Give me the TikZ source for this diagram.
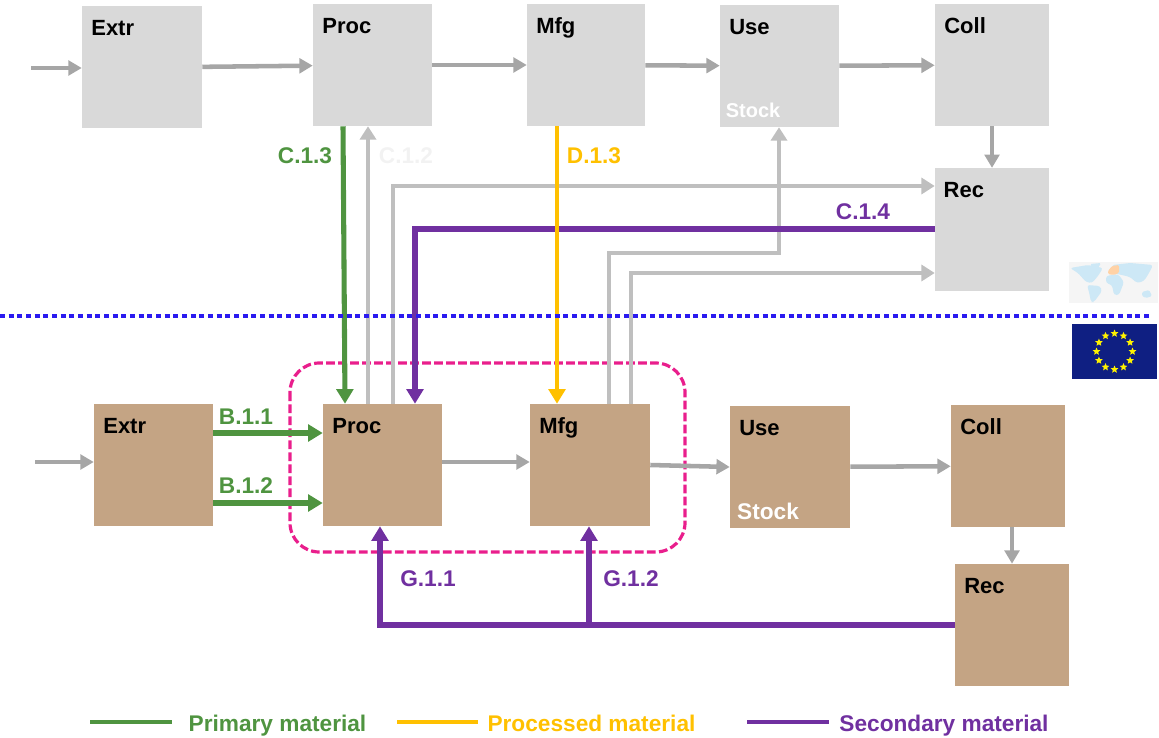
\documentclass[tikz,border=0pt]{standalone}
\usepackage{fontspec}
\setmainfont{Liberation Sans}
\usetikzlibrary{arrows.meta,shapes.geometric}
\definecolor{boxgray}{HTML}{D9D9D9}
\definecolor{boxbrown}{HTML}{C4A484}
\definecolor{linegray}{HTML}{A6A6A6}
\definecolor{routegray}{HTML}{BFBFBF}
\definecolor{primgreen}{HTML}{4F9440}
\definecolor{procyellow}{HTML}{FFC000}
\definecolor{secpurple}{HTML}{7030A0}
\definecolor{framepink}{HTML}{E91E8C}
\definecolor{dotblue}{HTML}{2A1AF0}
\definecolor{flagblue}{HTML}{0F1F82}
\definecolor{mapblue}{HTML}{CDE8F6}
\tikzset{
  stagebox/.style={inner sep=0pt,minimum width=#1*0.75pt},
  stagetext/.style={anchor=base west,inner sep=0pt,font=\bfseries\fontsize{16.5}{18}\selectfont},
  flowlabel/.style={anchor=base,inner sep=0pt,font=\bfseries\fontsize{17}{19}\selectfont},
  flow/.style={line width=3.4pt,linegray,-{Triangle[length=10pt,width=11pt]}},
  route/.style={line width=3.4pt,routegray,-{Triangle[length=10pt,width=12pt]}},
  green line/.style={line width=3.8pt,primgreen,-{Triangle[length=11pt,width=12.5pt]}},
  yellow line/.style={line width=3.4pt,procyellow,-{Triangle[length=11pt,width=12.5pt]}},
  purple line/.style={line width=3.8pt,secpurple,-{Triangle[length=11pt,width=12.5pt]}}
}
\begin{document}
\begin{tikzpicture}[x=0.75pt,y=-0.75pt]
    \useasboundingbox (0,0) rectangle (1159,738);

    %Cajas arriba
    \foreach \nm/\cx/\cy/\bw/\txt in {textr/142/67.5/120/Extr,tproc/372.5/65/119/Proc,tmfg/586/65/118/Mfg,tuse/779.5/66/119/Use,tcoll/992/65/114/Coll}{
        \node[stagebox=\bw,minimum height=91.5pt,fill=boxgray] (\nm) at (\cx,\cy) {};
        \node[stagetext] (\nm text) at ([xshift=7pt,yshift=-22pt]\nm.north west) {\txt};
    }
    \node[stagebox=114,minimum height=92pt,fill=boxgray] (trec) at (992,229.5) {};
    \node[stagetext] (trec text) at ([xshift=6.5pt,yshift=-22.5pt]trec.north west) {Rec};
    \node[flowlabel,white,font=\bfseries\fontsize{15}{17}\selectfont] (tstock) at (753,118) {Stock};

    %Cajas abajo
    \foreach \nm/\cx/\cy/\bw/\txt in {bextr/153.5/465/119/Extr,bproc/382.5/465/119/Proc,bmfg/590/465/120/Mfg,buse/790/467/120/Use,bcoll/1008/466/114/Coll,brec/1012/625/114/Rec}{
        \node[stagebox=\bw,minimum height=91.5pt,fill=boxbrown] (\nm) at (\cx,\cy) {};
        \node[stagetext] (\nm text) at ([xshift=7pt,yshift=-22.5pt]\nm.north west) {\txt};
    }
    \node[flowlabel,white] (bstock) at (768,519) {Stock};

    %Marco
    \draw[framepink,line width=2.4pt,dash pattern=on 6.5pt off 2.5pt,rounded corners=22pt] (290,363) rectangle (685,552);

    %Flujos arriba
    \coordinate (tin) at (31,68);
    \draw[flow] (tin) -- (textr.west |- tin);
    \draw[flow] (textr) -- (tproc);
    \draw[flow] (tproc) -- (tmfg);
    \draw[flow] (tmfg) -- (tuse);
    \draw[flow] (tuse) -- (tcoll);
    \draw[flow] (tcoll) -- (trec);

    %Flujos abajo
    \coordinate (bin) at (35,462);
    \draw[flow] (bin) -- (bextr.west |- bin);
    \draw[flow] (bproc.east |- 0,462) -- (bmfg.west |- 0,462);
    \draw[flow] (bmfg.east |- 0,465) -- (buse.west |- 0,467);
    \draw[flow] (buse) -- (bcoll);
    \draw[flow] (1012,0 |- bcoll.south) -- (1012,0 |- brec.north);

    %Rutas grises
    \draw[route] (368,0 |- bproc.north) -- (368,0 |- tproc.south);
    \draw[route] (393,0 |- bproc.north) -- (393,186) -- (trec.west |- 0,186);
    \draw[route] (609,0 |- bmfg.north) -- (609,253) -- (779,253) -- (779,0 |- tuse.south);
    \draw[route] (631,0 |- bmfg.north) -- (631,273) -- (trec.west |- 0,273);

    %Rutas de color
    \draw[green line] (343,0 |- tproc.south) -- (345,0 |- bproc.north);
    \draw[green line] (bextr.east |- 0,433) -- (bproc.west |- 0,433);
    \draw[green line] (bextr.east |- 0,503) -- (bproc.west |- 0,503);
    \draw[purple line] (trec.west |- 0,229) -- (415,229) -- (415,0 |- bproc.north);
    \draw[purple line] (brec.west |- 0,625) -- (380,625) -- (380,0 |- bproc.south);
    \draw[purple line] (589,625) -- (589,0 |- bmfg.south);
    \draw[yellow line] (557,0 |- tmfg.south) -- (557,0 |- bmfg.north);

    %Etiquetas
    \foreach \nm/\cx/\cy/\col/\txt in {c13/305/163/primgreen/C.1.3,c12/406/163/black!5/C.1.2,d13/594/163/procyellow/D.1.3,c14/863/219/secpurple/C.1.4,b11/246/424/primgreen/B.1.1,b12/246/493/primgreen/B.1.2,g11/428/586/secpurple/G.1.1,g12/631/586/secpurple/G.1.2}{
        \node[flowlabel,text=\col] (\nm) at (\cx,\cy) {\txt};
    }

    %Mapa
    \node[inner sep=0pt,minimum width=66.75pt,minimum height=31pt,fill=black!4] (worldmap) at (1113.5,282.5) {};
    \fill[mapblue,rounded corners=2pt] (1070,268) -- (1088,265) -- (1103,268) -- (1098,276) -- (1092,283) -- (1086,282) -- (1078,273) -- cycle;
    \fill[mapblue,rounded corners=1pt] (1090,264) -- (1101,263) -- (1098,268) -- (1093,268) -- cycle;
    \fill[mapblue,rounded corners=2pt] (1087,285) -- (1100,286) -- (1102,291) -- (1094,302) -- (1091,302) -- (1089,292) -- cycle;
    \fill[mapblue,rounded corners=2pt] (1106,276) -- (1118,274) -- (1124,282) -- (1119,295) -- (1114,295) -- (1112,285) -- (1106,283) -- cycle;
    \fill[mapblue,rounded corners=2pt] (1112,265) -- (1130,263) -- (1153,265) -- (1149,273) -- (1144,281) -- (1137,283) -- (1130,277) -- (1122,275) -- (1112,273) -- cycle;
    \fill[mapblue,rounded corners=1pt] (1142,292) -- (1149,290) -- (1152,296) -- (1146,298) -- (1142,296) -- cycle;
    \fill[orange!35,rounded corners=1pt] (1108,271) -- (1112,266) -- (1119,265) -- (1119,273) -- (1113,275) -- (1108,274) -- cycle;

    %Bandera
    \node[inner sep=0pt,minimum width=63.75pt,minimum height=41.25pt,fill=flagblue] (euflag) at (1114.5,351.5) {};
    \foreach \a in {0,30,...,330}{
        \node[star,star points=5,star point ratio=2.2,fill=yellow,inner sep=0pt,minimum size=6pt] (star\a) at ([shift={(\a:18)}]euflag.center) {};
    }

    %Frontera
    \coordinate (bordera) at (0,316);
    \coordinate (borderb) at (1152,316);
    \draw[dotblue,line width=2.6pt,dash pattern=on 3.8pt off 2.7pt] (bordera) -- (borderb);

    %Leyenda
    \coordinate (lega) at (90,722);
    \coordinate (legb) at (172,722);
    \coordinate (legc) at (397,722);
    \coordinate (legd) at (478,722);
    \coordinate (lege) at (747,722);
    \coordinate (legf) at (829,722);
    \draw[primgreen,line width=3.4pt] (lega) -- (legb);
    \draw[procyellow,line width=3.4pt] (legc) -- (legd);
    \draw[secpurple,line width=3.4pt] (lege) -- (legf);
    \node[flowlabel,text=primgreen] (legprim) at (277.5,731) {Primary material};
    \node[flowlabel,text=procyellow] (legproc) at (591.5,731) {Processed material};
    \node[flowlabel,text=secpurple] (legsec) at (944,731) {Secondary material};
\end{tikzpicture}
\end{document}
